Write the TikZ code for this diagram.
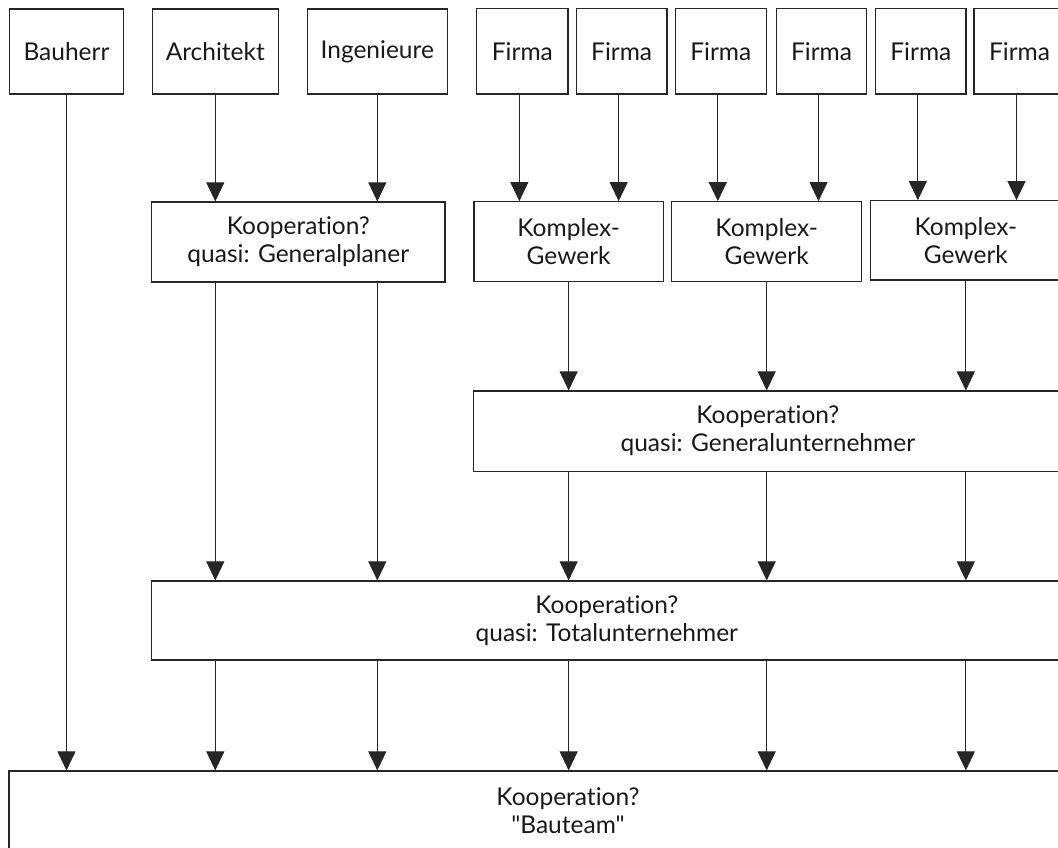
\documentclass[tikz,border=0pt]{standalone}
\usepackage{fontspec}
\setmainfont{Lato}[Ligatures={TeXOff,NoCommon}]
\usetikzlibrary{arrows.meta}
\newcommand\bx[6]{\node[box, minimum width={#4-#2}, minimum height={#5-#3}] (#1) at ({(#2+#4)/2},{(#3+#5)/2}) {#6};}
\begin{document}
\begin{tikzpicture}[x=1pt,y=-1pt,
  box/.style={draw=black!85, line width=1.1pt, inner sep=0pt, align=center,
    font=\fontsize{24.5}{28}\selectfont, text=black!90},
  arr/.style={draw=black!85, line width=0.9pt, -{Triangle[width=18pt,length=19pt]}}]
\useasboundingbox (0,0) rectangle (1058,848);
\clip (0,0) rectangle (1058,848);
% top row
\bx{bh}{9.3}{9}{123.7}{94}{Bauherr}
\bx{ar}{152.3}{9}{278.3}{94}{Architekt}
\bx{ing}{307.3}{9}{447.3}{94}{Ingenieure}
\bx{f1}{476.7}{8.5}{568}{94}{Firma}
\bx{f2}{576.3}{8.5}{667}{94}{Firma}
\bx{f3}{675.3}{8.5}{766.3}{94}{Firma}
\bx{f4}{776.3}{8.5}{866.7}{94}{Firma}
\bx{f5}{875.7}{8.5}{966}{94}{Firma}
\bx{f6}{974}{8.5}{1065}{94}{Firma}
% second row
\bx{gp}{151.7}{202}{445}{282}{Kooperation?\\quasi: Generalplaner}
\bx{k1}{474}{201.7}{663.3}{281.7}{Komplex-\\Gewerk}
\bx{k2}{671.7}{201.7}{861.7}{281.7}{Komplex-\\Gewerk}
\bx{k3}{870.7}{200.7}{1061}{280}{Komplex-\\Gewerk}
% lower rows
\bx{gu}{473.7}{391}{1062}{471.3}{Kooperation?\\quasi: Generalunternehmer}
\bx{tu}{151.7}{581}{1062}{660}{Kooperation?\\quasi: Totalunternehmer}
\bx{bt}{9}{771}{1127}{851}{Kooperation?\\"Bauteam"}
% firm arrow start points
\coordinate (f1o) at ([xshift=-3pt]f1.south);
\coordinate (f2o) at ([xshift=-3pt]f2.south);
\coordinate (f3o) at ([xshift=-3pt]f3.south);
\coordinate (f4o) at ([xshift=-3pt]f4.south);
\coordinate (f5o) at ([xshift=-3pt]f5.south);
\coordinate (f6o) at ([xshift=-3pt]f6.south);
% connectors
\draw[arr] (bh.south) -- (bh.south |- bt.north);
\draw[arr] (ar.south) -- (ar.south |- gp.north);
\draw[arr] (ing.south) -- (ing.south |- gp.north);
\draw[arr] (f1o) -- (f1o |- k1.north);
\draw[arr] (f2o) -- (f2o |- k1.north);
\draw[arr] (f3o) -- (f3o |- k2.north);
\draw[arr] (f4o) -- (f4o |- k2.north);
\draw[arr] (f5o) -- (f5o |- k3.north);
\draw[arr] (f6o) -- (f6o |- k3.north);
\draw[arr] (ar.south |- gp.south) -- (ar.south |- tu.north);
\draw[arr] (ing.south |- gp.south) -- (ing.south |- tu.north);
\draw[arr] (k1.south) -- (k1.south |- gu.north);
\draw[arr] (k2.south) -- (k2.south |- gu.north);
\draw[arr] (k3.south) -- (k3.south |- gu.north);
\draw[arr] (k1.south |- gu.south) -- (k1.south |- tu.north);
\draw[arr] (k2.south |- gu.south) -- (k2.south |- tu.north);
\draw[arr] (k3.south |- gu.south) -- (k3.south |- tu.north);
\draw[arr] (ar.south |- tu.south) -- (ar.south |- bt.north);
\draw[arr] (ing.south |- tu.south) -- (ing.south |- bt.north);
\draw[arr] (k1.south |- tu.south) -- (k1.south |- bt.north);
\draw[arr] (k2.south |- tu.south) -- (k2.south |- bt.north);
\draw[arr] (k3.south |- tu.south) -- (k3.south |- bt.north);
\end{tikzpicture}
\end{document}
